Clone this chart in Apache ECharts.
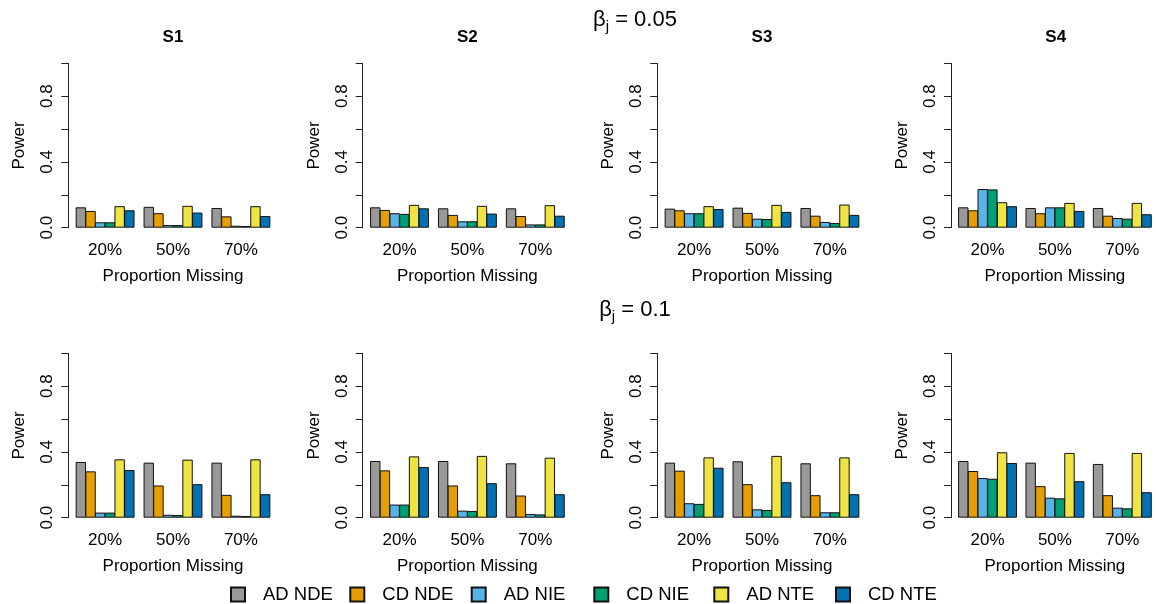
<!DOCTYPE html>
<html>
<head>
<meta charset="utf-8">
<script src="https://cdn.jsdelivr.net/npm/echarts@6/dist/echarts.min.js"></script>
<style>
html,body{margin:0;padding:0;background:#fff;}
#chart{width:1156px;height:604px;}
</style>
</head>
<body>
<div id="chart"></div>
<script>
// ---------- DATA ----------
const categories = ['20%', '50%', '70%'];
const seriesNames = ['AD NDE', 'CD NDE', 'AD NIE', 'CD NIE', 'AD NTE', 'CD NTE'];
const seriesColors = ['#999999', '#E69F00', '#56B4E9', '#009E73', '#F0E442', '#0072B2'];
const panelTitles = ['S1', 'S2', 'S3', 'S4'];
const betaValues = ['0.05', '0.1'];
const yTicks = [0, 0.2, 0.4, 0.6, 0.8, 1.0];

// each array: rows = series (AD NDE, CD NDE, AD NIE, CD NIE, AD NTE, CD NTE), cols = 20%, 50%, 70%
const beta005_S1 = [
  [0.124, 0.127, 0.120],
  [0.102, 0.088, 0.069],
  [0.033, 0.016, 0.012],
  [0.033, 0.016, 0.010],
  [0.131, 0.133, 0.131],
  [0.106, 0.092, 0.071]
];
const beta005_S2 = [
  [0.124, 0.118, 0.118],
  [0.108, 0.078, 0.071],
  [0.088, 0.039, 0.020],
  [0.084, 0.039, 0.020],
  [0.139, 0.133, 0.137],
  [0.118, 0.086, 0.073]
];
const beta005_S3 = [
  [0.116, 0.122, 0.120],
  [0.106, 0.090, 0.073],
  [0.088, 0.055, 0.035],
  [0.088, 0.053, 0.029],
  [0.131, 0.139, 0.141],
  [0.114, 0.096, 0.078]
];
const beta005_S4 = [
  [0.124, 0.120, 0.120],
  [0.106, 0.088, 0.073],
  [0.235, 0.124, 0.059],
  [0.233, 0.124, 0.055],
  [0.155, 0.151, 0.151],
  [0.131, 0.102, 0.082]
];
const beta01_S1 = [
  [0.339, 0.335, 0.335],
  [0.282, 0.196, 0.139],
  [0.031, 0.018, 0.012],
  [0.031, 0.016, 0.010],
  [0.355, 0.353, 0.355],
  [0.290, 0.204, 0.143]
];
const beta01_S2 = [
  [0.345, 0.345, 0.331],
  [0.288, 0.196, 0.135],
  [0.080, 0.043, 0.022],
  [0.080, 0.041, 0.020],
  [0.373, 0.376, 0.365],
  [0.308, 0.210, 0.143]
];
const beta01_S3 = [
  [0.335, 0.343, 0.331],
  [0.286, 0.204, 0.137],
  [0.088, 0.051, 0.033],
  [0.084, 0.047, 0.033],
  [0.367, 0.376, 0.367],
  [0.304, 0.216, 0.143]
];
const beta01_S4 = [
  [0.345, 0.335, 0.327],
  [0.284, 0.192, 0.137],
  [0.241, 0.122, 0.061],
  [0.237, 0.118, 0.057],
  [0.398, 0.394, 0.394],
  [0.333, 0.222, 0.155]
];
const panelData = [
  [beta005_S1, beta005_S2, beta005_S3, beta005_S4],
  [beta01_S1, beta01_S2, beta01_S3, beta01_S4]
];

// ---------- LAYOUT ----------
const FONT = '"Liberation Sans", Arial, Helvetica, sans-serif';
const axisX = [68.3, 362.7, 657.3, 951.0];   // y-axis line positions
const rowTop = [63.3, 353.3];
const plotH = 164.4;
const gridW = 203.7;
const inset = 2.85;
const legendX = [230, 349.3, 470.7, 593.3, 713.3, 835];

const grids = [], xAxes = [], yAxes = [], series = [], graphics = [];
let idx = 0;
for (let r = 0; r < 2; r++) {
  for (let c = 0; c < 4; c++) {
    grids.push({left: axisX[c] + inset, top: rowTop[r], width: gridW, height: plotH, containLabel: false});
    xAxes.push({
      type: 'category', gridIndex: idx, data: categories,
      axisLine: {show: false}, axisTick: {show: false},
      axisLabel: {fontFamily: FONT, fontSize: 17, color: '#000', margin: 14},
      name: 'Proportion Missing', nameLocation: 'middle', nameGap: 40,
      nameTextStyle: {fontFamily: FONT, fontSize: 17, color: '#000'}
    });
    yAxes.push({
      type: 'value', gridIndex: idx, min: 0, max: 1, interval: 0.2, offset: inset,
      axisLine: {show: true, lineStyle: {color: '#222', width: 1}},
      axisTick: {show: true, length: 7, lineStyle: {color: '#222', width: 1}},
      splitLine: {show: false},
      axisLabel: {
        fontFamily: FONT, fontSize: 17, color: '#000', rotate: 90, margin: 12,
        formatter: function (v) { return (Math.round(v * 10) % 4 === 0) ? v.toFixed(1) : ''; }
      },
      name: 'Power', nameLocation: 'middle', nameGap: 40, nameRotate: 90,
      nameTextStyle: {fontFamily: FONT, fontSize: 17, color: '#000'}
    });
    const vals = panelData[r][c];
    for (let k = 0; k < seriesNames.length; k++) {
      series.push({
        type: 'bar', name: seriesNames[k], xAxisIndex: idx, yAxisIndex: idx,
        data: vals[k], barGap: '-6.73%', barWidth: 10.4,
        itemStyle: {color: seriesColors[k], borderColor: '#111', borderWidth: 1},
        emphasis: {disabled: true}, animation: false
      });
    }
    if (r === 0) {
      graphics.push({
        type: 'text', x: axisX[c] + inset + gridW / 2, y: 37.5,
        style: {text: panelTitles[c], font: 'bold 17px ' + FONT, fill: '#000',
                align: 'center', verticalAlign: 'middle', textAlign: 'center', textVerticalAlign: 'middle'}
      });
    }
    idx++;
  }
}
const betaY = [19.5, 309.5];
for (let r = 0; r < 2; r++) {
  graphics.push({
    type: 'text', x: 635, y: betaY[r],
    style: {
      text: '{b|β}{s|j}{n| = ' + betaValues[r] + '}',
      align: 'center', verticalAlign: 'middle', textAlign: 'center', textVerticalAlign: 'middle',
      rich: {
        b: {fontFamily: FONT, fontSize: 22, color: '#000', lineHeight: 30, verticalAlign: 'middle'},
        s: {fontFamily: FONT, fontSize: 15, color: '#000', lineHeight: 15, verticalAlign: 'bottom'},
        n: {fontFamily: FONT, fontSize: 22, color: '#000', lineHeight: 30, verticalAlign: 'middle'}
      }
    }
  });
}

const legends = seriesNames.map(function (n, i) {
  return {
    data: [n], left: legendX[i], top: 585, padding: 0, itemWidth: 14, itemHeight: 14,
    icon: 'rect', selectedMode: false,
    textStyle: {fontFamily: FONT, fontSize: 18.5, color: '#000', padding: [0, 0, 0, 13]}
  };
});

const chart = echarts.init(document.getElementById('chart'), null, {renderer: 'canvas'});
chart.setOption({
  animation: false,
  backgroundColor: '#fff',
  grid: grids, xAxis: xAxes, yAxis: yAxes, series: series,
  legend: legends, graphic: graphics
});
</script>
</body>
</html>
